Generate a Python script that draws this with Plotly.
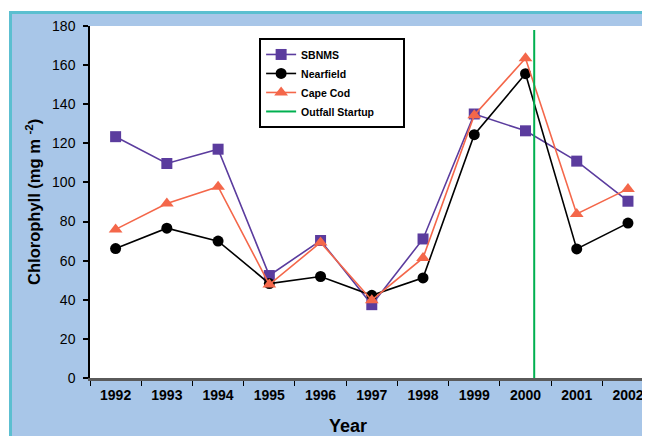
import plotly.graph_objects as go

years = ["1992", "1993", "1994", "1995", "1996", "1997", "1998", "1999", "2000", "2001", "2002"]
sbnms = [123.4, 109.7, 117.0, 52.4, 70.3, 37.5, 71.1, 135.0, 126.4, 110.9, 90.4]
nearfield = [66.2, 76.6, 70.0, 48.3, 51.9, 42.3, 51.2, 124.4, 155.6, 66.0, 79.2]
cape_cod = [76.0, 89.2, 97.8, 47.8, 69.3, 39.8, 61.4, 134.4, 163.5, 83.9, 96.7]
outfall_x = [8.17, 8.17]
outfall_y = [0, 178]
y_ticks = [0, 20, 40, 60, 80, 100, 120, 140, 160, 180]

BG = "#A8C6E8"
CYAN = "#5BBFD0"
PURPLE = "#5B3C9E"
ORANGE = "#F4674A"
GREEN = "#00B050"
FAM = "Liberation Sans, Arial, sans-serif"
TICKFONT = dict(family=FAM, size=14, color="black")

fig = go.Figure()
fig.add_trace(go.Scatter(x=years, y=sbnms, name="<b>SBNMS</b>", mode="lines+markers",
                         line=dict(color=PURPLE, width=1.6),
                         marker=dict(symbol="square", size=11, color=PURPLE)))
fig.add_trace(go.Scatter(x=years, y=nearfield, name="<b>Nearfield</b>", mode="lines+markers",
                         line=dict(color="black", width=1.6),
                         marker=dict(symbol="circle", size=11, color="black")))
fig.add_trace(go.Scatter(x=years, y=cape_cod, name="<b>Cape Cod</b>", mode="lines+markers",
                         line=dict(color=ORANGE, width=1.6),
                         marker=dict(symbol="triangle-up", size=12, color=ORANGE)))
fig.add_trace(go.Scatter(x=outfall_x, y=outfall_y,
                         name="<b>Outfall Startup</b>" + "&nbsp;" * 8, mode="lines",
                         line=dict(color=GREEN, width=2), xaxis="x2"))

XR = [-0.5, 10.43]

fig.update_layout(
    width=642, height=428,
    margin=dict(l=82, r=0, t=18, b=58),
    paper_bgcolor=BG,
    plot_bgcolor="white",
    showlegend=True,
    font=dict(family=FAM, color="black"),
    xaxis=dict(type="category", range=XR, tickson="boundaries", ticks="outside",
               ticklen=5, tickcolor="black", tickwidth=1, showgrid=False, zeroline=False,
               showline=True, linecolor="#5a5a5a", linewidth=2.5, tickfont=TICKFONT,
               tickprefix="<b>", ticksuffix="</b>", ticklabelstandoff=2, automargin=False),
    xaxis2=dict(overlaying="x", range=XR, visible=False, showgrid=False, zeroline=False,
                automargin=False),
    yaxis=dict(range=[0, 180], tickvals=y_ticks, ticks="outside", ticklen=5,
               tickcolor="black", tickwidth=1.5, showgrid=False, zeroline=False,
               showline=True, linecolor="black", linewidth=1.5, tickfont=TICKFONT,
               tickprefix="<b>", ticksuffix="</b>", ticklabelstandoff=5, automargin=False),
    legend=dict(x=0.302, y=0.966, xanchor="left", yanchor="top", bgcolor="white",
                bordercolor="black", borderwidth=2,
                font=dict(family=FAM, size=10.5, color="black")),
)

# Frame: white outer strips and cyan border lines (paper coordinates)
shapes = [
    dict(type="rect", xref="paper", yref="paper", x0=-0.3, x1=1.2, y0=1.0427, y1=1.3,
         fillcolor="white", line=dict(width=0), layer="below"),
    dict(type="rect", xref="paper", yref="paper", x0=-0.3, x1=-0.1446, y0=-0.3, y1=1.3,
         fillcolor="white", line=dict(width=0), layer="below"),
    dict(type="rect", xref="paper", yref="paper", x0=-0.1446, x1=1.2, y0=1.0341, y1=1.0427,
         fillcolor=CYAN, line=dict(width=0), layer="below"),
    dict(type="rect", xref="paper", yref="paper", x0=-0.1446, x1=-0.1393, y0=-0.3, y1=1.0427,
         fillcolor=CYAN, line=dict(width=0), layer="below"),
]
fig.update_layout(shapes=shapes)

fig.add_annotation(text="<b>Chlorophyll (mg m <sup>-2</sup>)</b>", xref="paper", yref="paper",
                   x=-0.102, y=0.5, xanchor="center", yanchor="middle", textangle=-90,
                   showarrow=False, font=dict(family=FAM, size=16.5, color="black"))
fig.add_annotation(text="<b>Year</b>", xref="paper", yref="paper",
                   x=0.4607, y=-0.137, xanchor="center", yanchor="middle",
                   showarrow=False, font=dict(family=FAM, size=18, color="black"))

fig.write_html("out.html")
